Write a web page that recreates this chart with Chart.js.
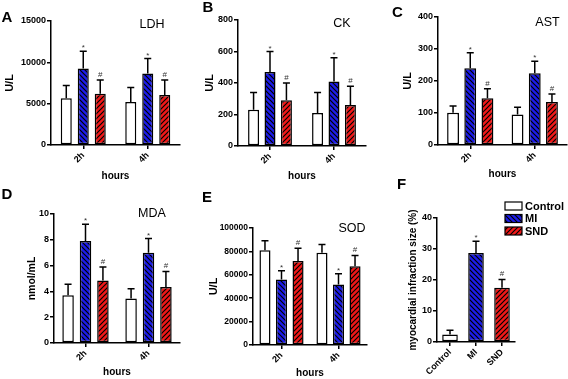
<!DOCTYPE html>
<html>
<head>
<meta charset="utf-8">
<script src="https://cdn.jsdelivr.net/npm/chart.js@4"></script>
<style>
  html, body { margin: 0; padding: 0; background: #fff; }
  #wrap { position: relative; width: 568px; height: 379px; overflow: hidden; }
  #wrap canvas { position: absolute; }
</style>
</head>
<body>
<div id="wrap">
  <canvas id="cA"></canvas>
  <canvas id="cB"></canvas>
  <canvas id="cC"></canvas>
  <canvas id="cD"></canvas>
  <canvas id="cE"></canvas>
  <canvas id="cF"></canvas>
</div>
<script>
/* ============================== Data ============================== */
const timeLabels = ['2h', '4h'];
const groupNames = ['Control', 'MI', 'SND'];

// rows: Control, MI, SND ; columns: 2h, 4h
const ldhMean = [[5650, 5200], [9250, 8650], [6200, 6050]];
const ldhSD   = [[1550, 1750], [2100, 1800], [1650, 1800]];

const ckMean = [[230, 210], [470, 410], [290, 260]];
const ckSD   = [[110, 130], [130, 150], [110, 120]];

const astMean = [[101, 95], [240, 224], [146, 134]];
const astSD   = [[21, 23], [48, 38], [30, 25]];

const mdaMean = [[3.7, 3.45], [7.9, 7.0], [4.85, 4.35]];
const mdaSD   = [[0.85, 0.75], [1.3, 1.1], [1.05, 1.2]];

const sodMean = [[80900, 78900], [56000, 51700], [71700, 67400]];
const sodSD   = [[8200, 7100], [7400, 9200], [10900, 9200]];

const infarctMean = [2.4, 28.7, 17.5];
const infarctSD   = [1.4, 3.8, 2.7];

const groupMarks = ['', '*', '#'];   // significance marks per group

/* ============================== Styles ============================== */
Chart.defaults.font.family = 'Arial, "Liberation Sans", sans-serif';
Chart.defaults.color = '#000';

function hatch(color, dir) {
    const s = 5;
    const c = document.createElement('canvas');
    c.width = c.height = s;
    const g = c.getContext('2d');
    g.fillStyle = color;
    g.fillRect(0, 0, s, s);
    g.strokeStyle = '#000';
    g.lineWidth = 1.2;
    g.beginPath();
    if (dir > 0) { // "/"
        g.moveTo(0, s); g.lineTo(s, 0);
        g.moveTo(-1, 1); g.lineTo(1, -1);
        g.moveTo(s - 1, s + 1); g.lineTo(s + 1, s - 1);
    } else {       // "\"
        g.moveTo(0, 0); g.lineTo(s, s);
        g.moveTo(-1, s - 1); g.lineTo(1, s + 1);
        g.moveTo(s - 1, -1); g.lineTo(s + 1, 1);
    }
    g.stroke();
    return g.createPattern(c, 'repeat');
}
const fills = ['#ffffff', hatch('#1c1ce8', -1), hatch('#f01818', 1)];

/* ============================== Plugins ============================== */
const errorBars = {
    id: 'errorBars',
    afterDatasetsDraw(chart) {
        const { ctx } = chart;
        const y = chart.scales.y;
        ctx.save();
        chart.data.datasets.forEach((ds, i) => {
            const meta = chart.getDatasetMeta(i);
            meta.data.forEach((bar, j) => {
                const top = y.getPixelForValue(ds.data[j] + ds.sd[j]);
                ctx.strokeStyle = '#000';
                ctx.lineWidth = 1.5;
                ctx.beginPath();
                ctx.moveTo(bar.x, bar.y);
                ctx.lineTo(bar.x, top);
                ctx.moveTo(bar.x - 3.5, top);
                ctx.lineTo(bar.x + 3.5, top);
                ctx.stroke();
                const m = ds.marks ? ds.marks[j] : '';
                if (m) {
                    ctx.fillStyle = '#333';
                    ctx.font = '8px Arial, "Liberation Sans", sans-serif';
                    ctx.textAlign = 'center';
                    ctx.textBaseline = 'alphabetic';
                    ctx.fillText(m, bar.x, m === '*' ? top - 1 : top - 3);
                }
            });
        });
        ctx.restore();
    }
};

const panelText = {
    id: 'panelText',
    afterDraw(chart, args, o) {
        const { ctx } = chart;
        ctx.save();
        ctx.fillStyle = '#000';
        ctx.textAlign = 'center';
        ctx.textBaseline = 'middle';
        ctx.font = 'bold 15px Arial, "Liberation Sans", sans-serif';
        ctx.fillText(o.letter, o.lx, o.ly);
        if (o.title) {
            ctx.font = '12.5px Arial, "Liberation Sans", sans-serif';
            ctx.fillText(o.title, o.tx, o.ty);
        }
        if (o.legend) {
            ctx.font = 'bold 11px Arial, "Liberation Sans", sans-serif';
            ctx.textAlign = 'left';
            groupNames.forEach((name, i) => {
                const bx = 135, by = 27 + i * 12.5;
                ctx.fillStyle = fills[i];
                ctx.fillRect(bx, by, 17, 8);
                ctx.strokeStyle = '#000';
                ctx.lineWidth = 1.2;
                ctx.strokeRect(bx, by, 17, 8);
                ctx.fillStyle = '#000';
                ctx.fillText(name, 155, by + 4.5);
            });
        }
        ctx.restore();
    }
};

/* ============================== Panels ============================== */
function axes(L) {
    return {
        x: {
            grid: { offset: false, drawOnChartArea: false, color: '#000', lineWidth: 1.5, tickLength: 4 },
            border: { color: '#000', width: 1.5 },
            ticks: { font: { size: 9, weight: 'bold' }, color: '#000', minRotation: 45, maxRotation: 45, padding: 1 },
            title: { display: !!L.xTitle, text: L.xTitle, color: '#000', font: { size: 10, weight: 'bold' },
                     padding: { top: 0, bottom: L.xTitlePad } },
            afterFit: s => { s.height = L.xH; s.paddingLeft = 0; s.paddingRight = 0; }
        },
        y: {
            min: 0, max: L.yMax,
            grid: { drawOnChartArea: false, color: '#000', lineWidth: 1.5, tickLength: 4 },
            border: { color: '#000', width: 1.5 },
            ticks: { stepSize: L.yStep, font: { size: L.tickSize, weight: 'bold' }, color: '#000', padding: 1,
                     callback: v => String(v) },
            title: { display: true, text: L.yTitle, color: '#000', font: { size: L.yTitleSize, weight: 'bold' },
                     padding: { top: L.yTitlePad, bottom: 0 } },
            afterFit: s => { s.width = L.yW; s.paddingTop = 0; s.paddingBottom = 0; }
        }
    };
}

function place(L) {
    const cv = document.getElementById(L.id);
    cv.width = L.w; cv.height = L.h;
    cv.style.left = L.left + 'px';
    cv.style.top = L.top + 'px';
    return cv;
}

function groupedPanel(L, means, sds) {
    const cv = place(L);
    new Chart(cv, {
        type: 'bar',
        data: {
            labels: timeLabels,
            datasets: groupNames.map((g, i) => ({
                label: g,
                data: means[i],
                sd: sds[i],
                marks: timeLabels.map(() => groupMarks[i]),
                backgroundColor: fills[i],
                borderColor: '#000',
                borderWidth: 1.5,
                borderSkipped: false,
                barPercentage: L.barPct,
                categoryPercentage: L.catPct
            }))
        },
        options: {
            responsive: false,
            animation: false,
            layout: { padding: { top: L.padTop, right: L.padRight, left: 0, bottom: 0 } },
            plugins: {
                legend: { display: false },
                tooltip: { enabled: false },
                panelText: { letter: L.letter, lx: L.lx, ly: L.ly, title: L.title, tx: L.tx, ty: L.ty }
            },
            scales: axes(L)
        },
        plugins: [errorBars, panelText]
    });
}

groupedPanel({ id: 'cA', left: 0, top: 0, w: 190, h: 185, yW: 51, padTop: 21, padRight: 10, xH: 40,
    yMax: 15000, yStep: 5000, tickSize: 9, yTitle: 'U/L', yTitleSize: 11, yTitlePad: 3.4,
    xTitle: 'hours', xTitlePad: 3, barPct: 0.65, catPct: 0.79,
    letter: 'A', lx: 7, ly: 18, title: 'LDH', tx: 152, ty: 25 }, ldhMean, ldhSD);

groupedPanel({ id: 'cB', left: 185, top: 0, w: 185, h: 185, yW: 53, padTop: 20, padRight: 4, xH: 39,
    yMax: 800, yStep: 200, tickSize: 9, yTitle: 'U/L', yTitleSize: 11, yTitlePad: 18.4,
    xTitle: 'hours', xTitlePad: 3, barPct: 0.67, catPct: 0.77,
    letter: 'B', lx: 23, ly: 8, title: 'CK', tx: 157, ty: 24 }, ckMean, ckSD);

groupedPanel({ id: 'cC', left: 370, top: 0, w: 198, h: 185, yW: 68, padTop: 17, padRight: 1, xH: 40,
    yMax: 400, yStep: 100, tickSize: 9, yTitle: 'U/L', yTitleSize: 11, yTitlePad: 30.9,
    xTitle: 'hours', xTitlePad: 5, barPct: 0.69, catPct: 0.8,
    letter: 'C', lx: 27.5, ly: 13, title: 'AST', tx: 177.5, ty: 23 }, astMean, astSD);

groupedPanel({ id: 'cD', left: 0, top: 185, w: 190, h: 194, yW: 54, padTop: 29, padRight: 10, xH: 36,
    yMax: 10, yStep: 2, tickSize: 9, yTitle: 'nmol/mL', yTitleSize: 10.5, yTitlePad: 25.7,
    xTitle: 'hours', xTitlePad: 0.5, barPct: 0.66, catPct: 0.83,
    letter: 'D', lx: 7, ly: 10, title: 'MDA', tx: 152, ty: 29 }, mdaMean, mdaSD);

groupedPanel({ id: 'cE', left: 190, top: 185, w: 180, h: 194, yW: 63, padTop: 43, padRight: 3, xH: 34,
    yMax: 100000, yStep: 20000, tickSize: 8.5, yTitle: 'U/L', yTitleSize: 11, yTitlePad: 17.4,
    xTitle: 'hours', xTitlePad: 0, barPct: 0.67, catPct: 0.87,
    letter: 'E', lx: 17, ly: 12.5, title: 'SOD', tx: 162, ty: 43.5 }, sodMean, sodSD);

// Panel F: infarct size, one bar per group
(function () {
    const L = { id: 'cF', left: 370, top: 175, w: 198, h: 204, yW: 67, padTop: 43, padRight: 53, xH: 37,
        yMax: 40, yStep: 10, tickSize: 9, yTitle: 'myocardial infraction size (%)', yTitleSize: 10, yTitlePad: 37,
        xTitle: '', xTitlePad: 0 };
    const cv = place(L);
    new Chart(cv, {
        type: 'bar',
        data: {
            labels: groupNames,
            datasets: [{
                data: infarctMean,
                sd: infarctSD,
                marks: groupMarks,
                backgroundColor: fills,
                borderColor: '#000',
                borderWidth: 1.5,
                borderSkipped: false,
                barPercentage: 0.6,
                categoryPercentage: 1
            }]
        },
        options: {
            responsive: false,
            animation: false,
            layout: { padding: { top: L.padTop, right: L.padRight, left: 0, bottom: 0 } },
            plugins: {
                legend: { display: false },
                tooltip: { enabled: false },
                panelText: { letter: 'F', lx: 31.5, ly: 10, legend: true }
            },
            scales: axes(L)
        },
        plugins: [errorBars, panelText]
    });
})();
</script>
</body>
</html>
